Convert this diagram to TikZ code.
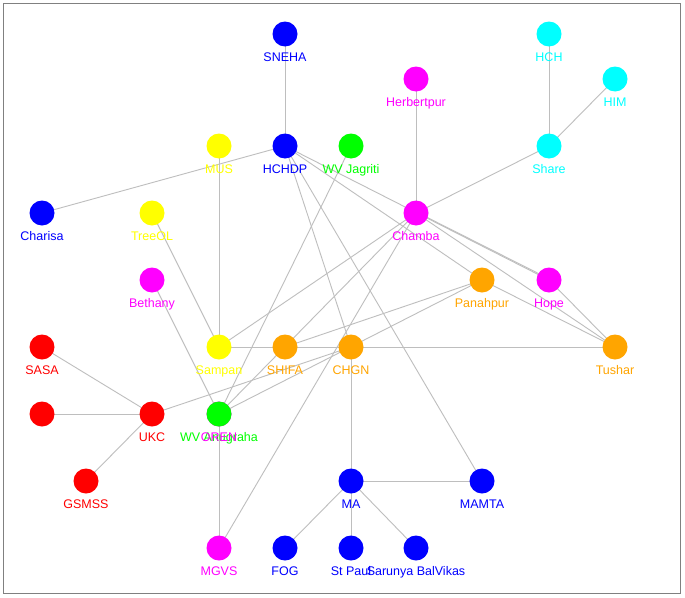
\documentclass[tikz,border=0pt]{standalone}
\usepackage{fontspec}
\setmainfont{Liberation Sans}
\usetikzlibrary{backgrounds}
\definecolor{cB}{RGB}{0,0,255}
\definecolor{cC}{RGB}{0,255,255}
\definecolor{cM}{RGB}{255,0,255}
\definecolor{cY}{RGB}{255,255,0}
\definecolor{cG}{RGB}{0,255,0}
\definecolor{cO}{RGB}{255,165,0}
\definecolor{cR}{RGB}{255,0,0}
\definecolor{edgegray}{RGB}{190,190,190}
\definecolor{framegray}{RGB}{128,128,128}
\begin{document}
\begin{tikzpicture}[x=1pt,y=-1pt,
  label distance=5.5pt,
  vtx/.style={circle, minimum size=25pt, inner sep=0pt, draw=none, fill=#1},
  lbl/.style={text=#1, font=\fontsize{12.5}{14}\selectfont, inner sep=0pt, text height=9pt, text depth=2.5pt},
  edge/.style={draw=edgegray, line width=0.9pt},
  frame/.style={draw=framegray, line width=1.5pt}]
\useasboundingbox (0,0) rectangle (685,597);

% nodes
\node[vtx=cB, label={[lbl=cB]below:SNEHA}] (sneha) at (285,34) {};
\node[vtx=cC, label={[lbl=cC]below:HCH}] (hch) at (549,34) {};
\node[vtx=cC, label={[lbl=cC]below:HIM}] (him) at (615,79) {};
\node[vtx=cM, label={[lbl=cM]below:Herbertpur}] (herb) at (416,79) {};
\node[vtx=cY, label={[lbl=cY]below:MUS}] (mus) at (219,146) {};
\node[vtx=cB, label={[lbl=cB]below:HCHDP}] (hchdp) at (285,146) {};
\node[vtx=cG, label={[lbl=cG]below:WV Jagriti}] (wvj) at (351,146) {};
\node[vtx=cC, label={[lbl=cC]below:Share}] (share) at (549,146) {};
\node[vtx=cB, label={[lbl=cB]below:Charisa}] (charisa) at (42,213) {};
\node[vtx=cY, label={[lbl=cY]below:TreeOL}] (treeol) at (152,213) {};
\node[vtx=cM, label={[lbl=cM]below:Chamba}] (chamba) at (416,213) {};
\node[vtx=cM, label={[lbl=cM]below:Bethany}] (bethany) at (152,280) {};
\node[vtx=cO, label={[lbl=cO]below:Panahpur}] (panahpur) at (482,280) {};
\node[vtx=cM, label={[lbl=cM]below:Hope}] (hope) at (549,280) {};
\node[vtx=cR, label={[lbl=cR]below:SASA}] (sasa) at (42,347) {};
\node[vtx=cY, label={[lbl=cY]below:Sampan}] (sampan) at (219,347) {};
\node[vtx=cO, label={[lbl=cO]below:SHIFA}] (shifa) at (285,347) {};
\node[vtx=cO, label={[lbl=cO]below:CHGN}] (chgn) at (351,347) {};
\node[vtx=cO, label={[lbl=cO]below:Tushar}] (tushar) at (615,347) {};
\node[vtx=cR] (red1) at (42,414) {};
\node[vtx=cR, label={[lbl=cR]below:UKC}] (ukc) at (152,414) {};
\node[vtx=cM] (oren) at (219,414) {};
\node[vtx=cG, label={[lbl=cG]below:WV Anugraha}] (wvorgn) at (219,414) {};
\node[lbl=cM, anchor=north, yshift=-5.5pt] (orenlbl) at (oren.south) {OREN};
\node[vtx=cR, label={[lbl=cR]below:GSMSS}] (gsmss) at (86,481) {};
\node[vtx=cB, label={[lbl=cB]below:MA}] (ma) at (351,481) {};
\node[vtx=cB, label={[lbl=cB]below:MAMTA}] (mamta) at (482,481) {};
\node[vtx=cM, label={[lbl=cM]below:MGVS}] (mgvs) at (219,548) {};
\node[vtx=cB, label={[lbl=cB]below:FOG}] (fog) at (285,548) {};
\node[vtx=cB, label={[lbl=cB]below:St Paul}] (stpaul) at (351,548) {};
\node[vtx=cB, label={[lbl=cB]below:Sarunya BalVikas}] (sarunya) at (416,548) {};

% edges and frame behind the nodes
\begin{pgfonlayer}{background}
\fill[white] (0,0) rectangle (685,597);
\draw[frame] (3.5,3.5) rectangle (680.5,593.5);
\draw[edge] (sneha.center) -- (hchdp.center);
\draw[edge] (hch.center) -- (share.center);
\draw[edge] (him.center) -- (share.center);
\draw[edge] (share.center) -- (chamba.center);
\draw[edge] (herb.center) -- (chamba.center);
\draw[edge] (hchdp.center) -- (charisa.center);
\draw[edge] (hchdp.center) -- (hope.center);
\draw[edge] ([yshift=1.2pt]chamba.center) -- ([yshift=1.2pt]hope.center);
\draw[edge] (hchdp.center) -- (panahpur.center);
\draw[edge] (hchdp.center) -- (chgn.center);
\draw[edge] (hchdp.center) -- (mamta.center);
\draw[edge] (mus.center) -- (sampan.center);
\draw[edge] (treeol.center) -- (sampan.center);
\draw[edge] (bethany.center) -- (wvorgn.center);
\draw[edge] (wvj.center) -- (wvorgn.center);
\draw[edge] (chamba.center) -- (sampan.center);
\draw[edge] (chamba.center) -- (wvorgn.center);
\draw[edge] (chamba.center) -- (mgvs.center);
\draw[edge] (chamba.center) -- (tushar.center);
\draw[edge] (hope.center) -- (tushar.center);
\draw[edge] (panahpur.center) -- (tushar.center);
\draw[edge] (panahpur.center) -- (shifa.center);
\draw[edge] (panahpur.center) -- (wvorgn.center);
\draw[edge] (sampan.center) -- (tushar.center);
\draw[edge] (ukc.center) -- (chgn.center);
\draw[edge] (sasa.center) -- (ukc.center);
\draw[edge] (red1.center) -- (ukc.center);
\draw[edge] (gsmss.center) -- (ukc.center);
\draw[edge] (wvorgn.center) -- (mgvs.center);
\draw[edge] (chgn.center) -- (ma.center);
\draw[edge] (ma.center) -- (mamta.center);
\draw[edge] (ma.center) -- (fog.center);
\draw[edge] (ma.center) -- (stpaul.center);
\draw[edge] (ma.center) -- (sarunya.center);
\end{pgfonlayer}
\end{tikzpicture}
\end{document}
